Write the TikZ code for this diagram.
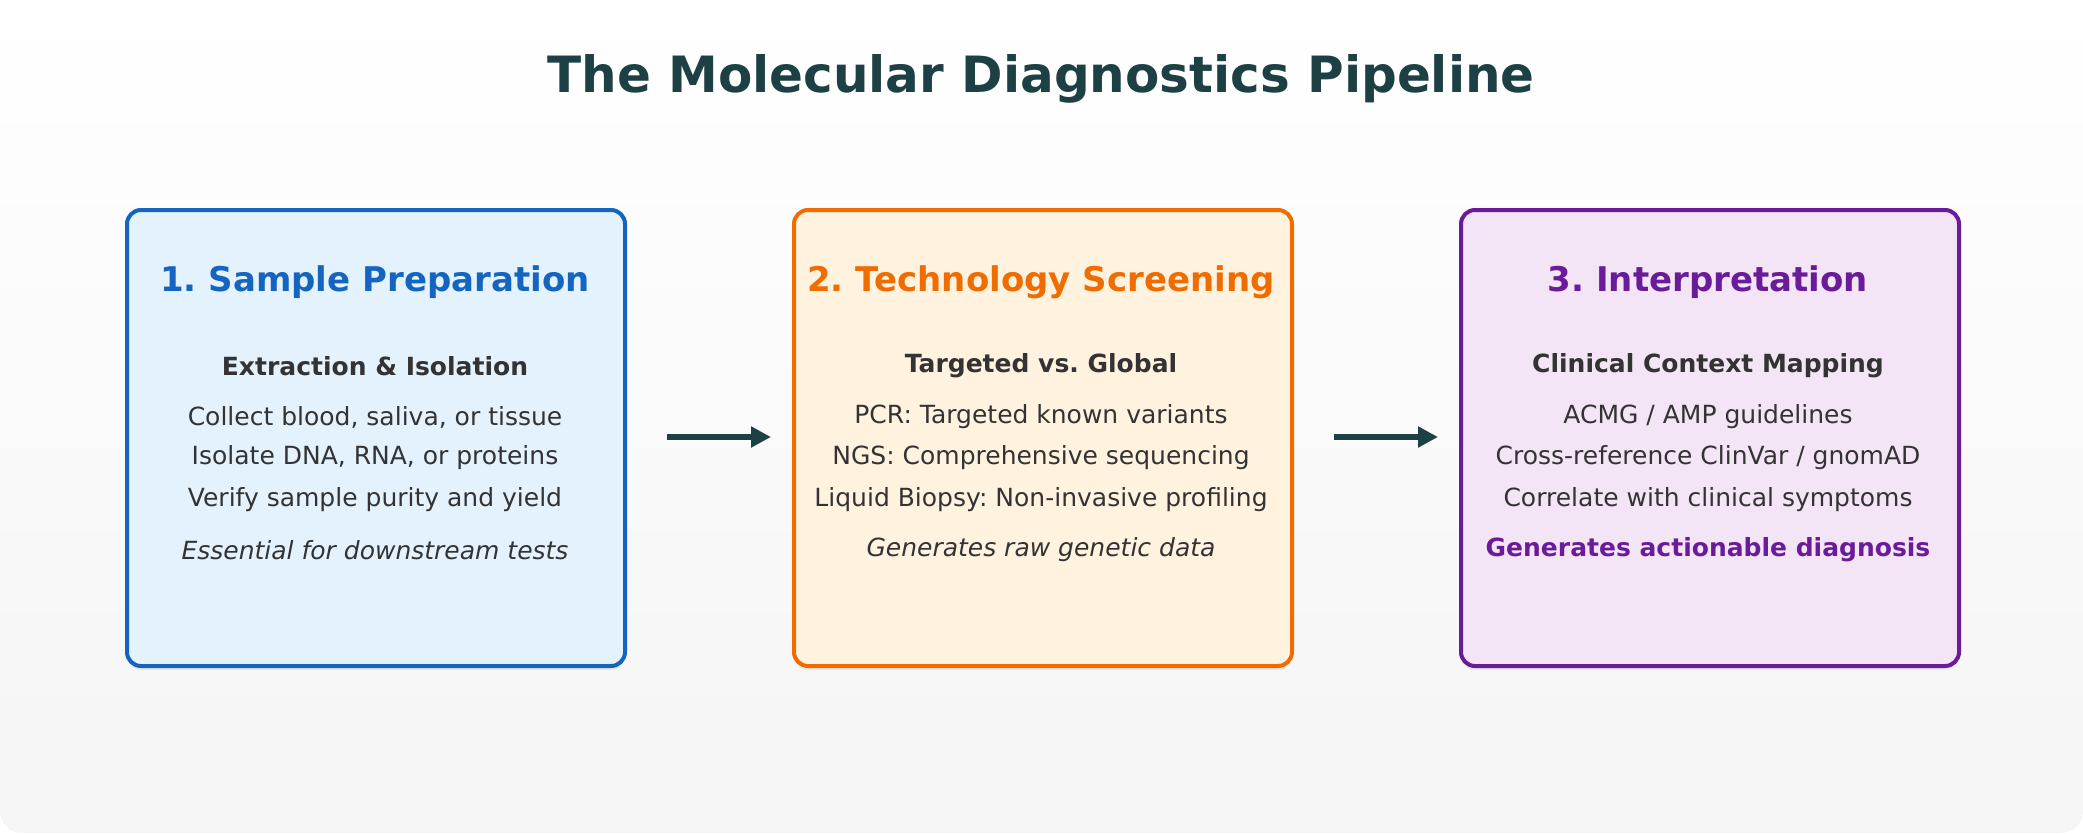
\documentclass[tikz,border=0pt]{standalone}
\usepackage{fontspec}
\setmainfont{DejaVu Sans}
\frenchspacing
\usetikzlibrary{shadows,arrows.meta}
\definecolor{ink}{HTML}{1D4044}
\definecolor{txt}{HTML}{333333}
\definecolor{blueD}{HTML}{1565C0}
\definecolor{blueL}{HTML}{E3F2FD}
\definecolor{orangeD}{HTML}{EF6C00}
\definecolor{orangeL}{HTML}{FFF3E0}
\definecolor{purpleD}{HTML}{6A1B9A}
\definecolor{purpleL}{HTML}{F3E5F5}
\tikzset{
  stage/.style={draw=#1, line width=4pt, rounded corners=14pt,
    minimum width=498pt, minimum height=456pt, anchor=north west,
    drop shadow={shadow xshift=0pt, shadow yshift=-4pt, opacity=0.12}},
  head/.style={font=\fontsize{34}{40}\selectfont\bfseries, text=#1},
  sub/.style={font=\fontsize{25}{30}\selectfont\bfseries, text=txt},
  line/.style={font=\fontsize{25}{30}\selectfont, text=txt},
  note/.style={font=\fontsize{25}{30}\selectfont\itshape, text=txt},
  flow/.style={-{Triangle[length=20pt,width=20pt]}, line width=6pt, draw=ink}
}
\begin{document}
\begin{tikzpicture}[x=1pt, y=-1pt]
\useasboundingbox (0,0) rectangle (2083,833);
\shade[top color=white, bottom color=gray!8, rounded corners=22pt] (0,0) rectangle (2083,833);
\node[font=\fontsize{50}{60}\selectfont\bfseries, text=ink] (title) at (1041,79) {The Molecular Diagnostics Pipeline};
% stage 1
\node[stage=blueD, fill=blueL] (prep) at (125,208) {};
\node[head=blueD] (prepT) at (375,282) {1. Sample Preparation};
\node[sub] (prepS) at (375,366) {Extraction \& Isolation};
\node[line] (prepA) at (375,417) {Collect blood, saliva, or tissue};
\node[line] (prepB) at (375,458) {Isolate DNA, RNA, or proteins};
\node[line] (prepC) at (375,500) {Verify sample purity and yield};
\node[note] (prepN) at (375,550) {Essential for downstream tests};
% stage 2
\node[stage=orangeD, fill=orangeL] (screen) at (792,208) {};
\node[head=orangeD] (screenT) at (1041,282) {2. Technology Screening};
\node[sub] (screenS) at (1041,366) {Targeted vs. Global};
\node[line] (screenA) at (1041,417) {PCR: Targeted known variants};
\node[line] (screenB) at (1041,458) {NGS: Comprehensive sequencing};
\node[line] (screenC) at (1041,500) {Liquid Biopsy: Non-invasive profiling};
\node[note] (screenN) at (1041,550) {Generates raw genetic data};
% stage 3
\node[stage=purpleD, fill=purpleL] (interp) at (1459,208) {};
\node[head=purpleD] (interpT) at (1708,282) {3. Interpretation};
\node[sub] (interpS) at (1708,366) {Clinical Context Mapping};
\node[line] (interpA) at (1708,417) {ACMG / AMP guidelines};
\node[line] (interpB) at (1708,458) {Cross-reference ClinVar / gnomAD};
\node[line] (interpC) at (1708,500) {Correlate with clinical symptoms};
\node[sub, text=purpleD] (interpN) at (1708,550) {Generates actionable diagnosis};
% arrows
\coordinate (a1) at (667,437); \coordinate (b1) at (771,437);
\coordinate (a2) at (1334,437); \coordinate (b2) at (1438,437);
\draw[flow] (a1) -- (b1);
\draw[flow] (a2) -- (b2);
\end{tikzpicture}
\end{document}
